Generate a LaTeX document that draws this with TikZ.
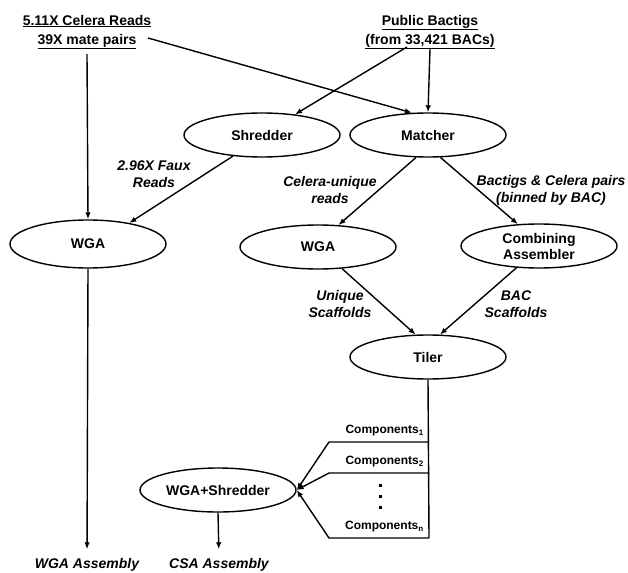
\documentclass[tikz,border=0pt]{standalone}
\usepackage{fontspec}
\setmainfont{Liberation Sans}
\usetikzlibrary{arrows.meta,shapes.geometric}
\begin{document}
\begin{tikzpicture}[x=1pt,y=-1pt,
  proc/.style={ellipse, draw, line width=1.4pt, minimum width=156pt, minimum height=44pt,
    inner sep=0pt, font=\fontsize{14}{16}\selectfont\bfseries, align=center},
  src/.style={font=\fontsize{14}{19}\selectfont\bfseries, align=center, inner sep=0pt},
  lab/.style={font=\fontsize{14}{17}\selectfont\bfseries\itshape, align=center, inner sep=0pt},
  comp/.style={font=\fontsize{12}{14}\selectfont\bfseries, anchor=east, inner sep=0pt},
  conn/.style={line width=1.4pt, -{Latex[length=7pt,width=5.5pt]}},
  plain/.style={line width=1.4pt}]
\useasboundingbox[fill=white] (0,0) rectangle (628,572);

% sources
\node[src] (celera) at (87,32) {\underline{5.11X Celera Reads}\\\underline{39X mate pairs}};
\node[src] (public) at (430,32) {\underline{Public Bactigs}\\\underline{(from 33,421 BACs)}};

% processes
\node[proc] (shredder) at (262,135) {Shredder};
\node[proc] (matcher) at (428,135) {Matcher};
\node[proc, minimum height=48pt] (wga1) at (88,244) {WGA};
\node[proc] (wga2) at (318,247) {WGA};
\node[proc] (comb) at (539,246) {Combining\\Assembler};
\node[proc] (tiler) at (428,357) {Tiler};
\node[proc] (wgash) at (218,490) {WGA+Shredder};

% outputs
\node[lab] (wgaasm) at (87,565) {WGA Assembly};
\node[lab] (csaasm) at (219,565) {CSA Assembly};

% edge labels
\node[lab] (faux) at (154,174) {2.96X Faux\\Reads};
\node[lab] (celuniq) at (330,190) {Celera-unique\\reads};
\node[lab] (bactigs) at (551,190) {Bactigs \& Celera pairs\\(binned by BAC)};
\node[lab] (uniqsc) at (340,304) {Unique\\Scaffolds};
\node[lab] (bacsc) at (516,304) {BAC\\Scaffolds};

% components
\node[comp] (comp1) at (424,431) {Components\textsubscript{1}};
\node[comp] (comp2) at (424,462) {Components\textsubscript{2}};
\node[comp] (compn) at (424,527) {Components\textsubscript{n}};
\foreach \yy in {485,496,507}
  \fill (378.5,\yy-1.5) rectangle ++(3,3);

% free ends
\coordinate (celeraend) at (148,38);
\coordinate (publicleft) at (407,47);
\coordinate (j1) at (429,442);
\coordinate (j2) at (429,473);
\coordinate (j3) at (429,538);
\coordinate (b1) at (329,442);
\coordinate (b2) at (329,473);
\coordinate (b3) at (329,538);

% connectors
\draw[conn] (celera.south) ++(0,5) -- (wga1.north);
\draw[conn] (celeraend) -- (matcher.126);
\draw[conn] (publicleft) -- (shredder.32);
\draw[conn] (public.south) -- (matcher.north);
\draw[conn] (shredder.216) -- (wga1.27);
\draw[conn] (matcher.242) -- (wga2.47);
\draw[conn] (matcher.299) -- (comb.134);
\draw[conn] (wga2.318) -- (tiler.119);
\draw[conn] (comb.224) -- (tiler.62);
\draw[conn, shorten >=9pt] (wga1.south) -- (wgaasm.north);
\draw[conn, shorten >=9pt] (wgash.south) -- (csaasm.north);
\draw[plain] (tiler.south) -- (j3);
\draw[conn] (j1) -- (b1) -- (wgash.east);
\draw[conn] (j2) -- (b2) -- (wgash.east);
\draw[conn] (j3) -- (b3) -- (wgash.east);
\end{tikzpicture}
\end{document}
